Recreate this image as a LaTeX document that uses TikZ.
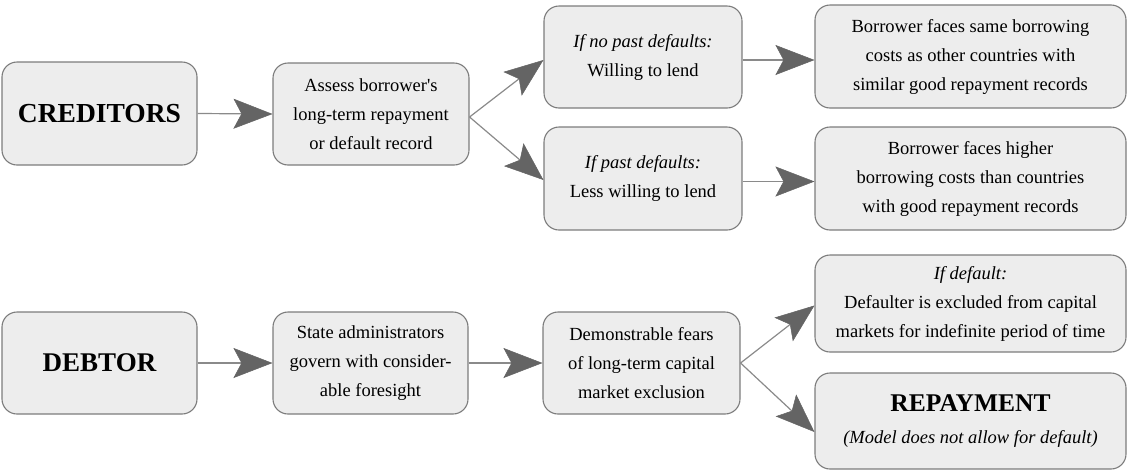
\documentclass[tikz,border=0pt]{standalone}
\usepackage{fontspec}
\setmainfont{Liberation Serif}[Ligatures=TeXOff]
\usetikzlibrary{arrows.meta}

\definecolor{boxfill}{HTML}{EDEDED}
\definecolor{boxline}{HTML}{7C7C7C}
\definecolor{linkline}{HTML}{8A8A8A}
\definecolor{headfill}{HTML}{646464}

\tikzset{
  card/.style={draw=boxline, fill=boxfill, line width=1.1pt, rounded corners=15pt,
    inner sep=0pt, align=center, minimum width=196pt, minimum height=102pt,
    font=\rmfamily\fontsize{18.5}{29}\selectfont},
  widecard/.style={card, minimum width=311pt},
  headline/.style={font=\rmfamily\fontsize{#1}{32}\selectfont\bfseries},
  link/.style={draw=linkline, line width=1.2pt,
    -{Stealth[length=39pt, width=30pt, inset=8pt, color=headfill, fill=headfill, line width=0.5pt]}}
}

\begin{document}
\begin{tikzpicture}[x=1pt, y=-1pt]
  \useasboundingbox (0,0) rectangle (1128,472);

  % creditors' side
  \node[card, minimum width=195pt, minimum height=103pt, headline=27.5] (cred) at (99.5,113.5) {CREDITORS};
  \node[card] (assess) at (371,114) {Assess borrower's\\long-term repayment\\or default record};
  \node[card, minimum width=198pt] (nopast) at (643,57) {\textit{If no past defaults:}\\Willing to lend};
  \node[card, minimum width=198pt, minimum height=103pt] (past) at (643,178.5) {\textit{If past defaults:}\\Less willing to lend};
  \node[widecard, minimum height=103pt] (same) at (970.5,56.5) {Borrower faces same borrowing\\costs as other countries with\\similar good repayment records};
  \node[widecard, minimum height=103pt] (higher) at (970.5,178.5) {Borrower faces higher\\borrowing costs than countries\\with good repayment records};

  % debtor's side
  \node[card, minimum width=195pt, headline=27] (debtor) at (99.5,363) {DEBTOR};
  \node[card, minimum width=195pt] (state) at (370.5,363) {State administrators\\govern with consider-\\able foresight};
  \node[card, minimum width=197pt] (fears) at (641.5,363) {Demonstrable fears\\of long-term capital\\market exclusion};
  \node[widecard, minimum height=97pt] (excl) at (970.5,303.5) {\textit{If default:}\\Defaulter is excluded from capital\\markets for indefinite period of time};
  \node[widecard, minimum height=96pt] (repay) at (970.5,421)
    {{\fontsize{25.5}{30}\selectfont\bfseries REPAYMENT}\\[3pt]\textit{(Model does not allow for default)}};

  % connectors
  \draw[link] (cred.east) -- (assess.west);
  \draw[link] ([yshift=-3pt]assess.east) -- ([yshift=-3pt]nopast.west);
  \draw[link] ([yshift=-3pt]assess.east) -- ([yshift=-1.5pt]past.west);
  \draw[link] ([yshift=-3pt]nopast.east) -- ([yshift=-3pt]nopast.east -| same.west);
  \draw[link] ([yshift=-3pt]past.east) -- ([yshift=-3pt]past.east -| higher.west);

  \draw[link] (debtor.east) -- (state.west);
  \draw[link] (state.east) -- (fears.west);
  \draw[link] (fears.east) -- ([yshift=-2pt]excl.west);
  \draw[link] (fears.east) -- ([yshift=-11pt]repay.west);
\end{tikzpicture}
\end{document}
